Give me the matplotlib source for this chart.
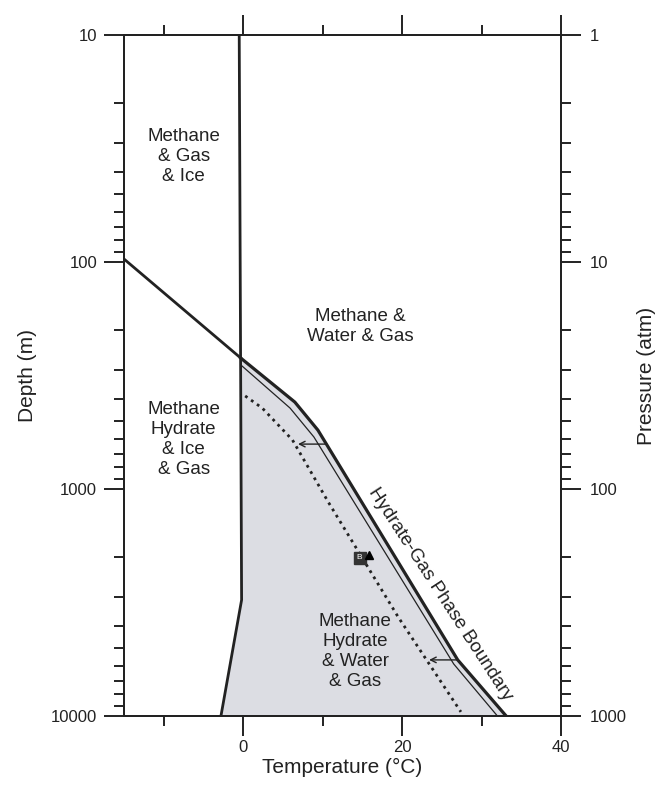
import numpy as np
import matplotlib.pyplot as plt
from matplotlib.ticker import FixedLocator, LogLocator, NullFormatter

plt.rcParams['font.family'] = ['Liberation Sans', 'DejaVu Sans']

# ice / water line
ice_T = [-0.5, -0.2, -2.8]
ice_D = [10, 3080, 10000]
# methane gas / hydrate line above 0 C
gas_T = [-15, -0.3]
gas_D = [97, 265]
# hydrate-gas phase boundary (thick)
bound_T = [-0.3, 6.5, 9.4, 27.0, 33.1]
bound_D = [265, 414, 550, 5660, 10000]
# inner thin boundary
thin_T = [-0.3, 5.9, 8.9, 26.5, 32.0]
thin_D = [284, 440, 590, 5900, 10000]
# dotted boundary
dot_T = [0.25, 2.4, 6.2, 10.7, 19.5, 27.4]
dot_D = [389, 440, 608, 1140, 3660, 9590]
# arrows (start T, end T, depth)
arrow_T0 = [10.5, 27.0]
arrow_T1 = [6.9, 23.4]
arrow_D = [634, 5660]
# sample markers
sq_T, sq_D = 14.65, 2005
tri_T, tri_D = 15.85, 1950

fig = plt.figure(figsize=(6.6, 7.89), dpi=100)
ax = fig.add_axes([0.1879, 0.0925, 0.85 - 0.1879, 0.9556 - 0.0925])

# shaded hydrate stability region
ice_top = np.interp(np.log10(bound_D[0]), np.log10(ice_D), ice_T)
poly_T = bound_T + [ice_T[-1], ice_T[1], ice_top]
poly_D = bound_D + [ice_D[-1], ice_D[1], bound_D[0]]
ax.fill(poly_T, poly_D, color='#dcdde3', lw=0, zorder=1)

ax.plot(ice_T, ice_D, color='#222222', lw=2, zorder=3)
ax.plot(gas_T, gas_D, color='#222222', lw=2, zorder=3)
ax.plot(bound_T, bound_D, color='#222222', lw=2.3, zorder=3)
ax.plot(thin_T, thin_D, color='#222222', lw=0.9, zorder=3)
ax.plot(dot_T, dot_D, color='#222222', lw=2, ls=(0, (1, 1.6)), zorder=3)

for t0, t1, d in zip(arrow_T0, arrow_T1, arrow_D):
    ax.annotate('', xy=(t1, d), xytext=(t0, d),
                arrowprops=dict(arrowstyle='->', color='#222222', lw=1,
                                shrinkA=0, shrinkB=0), zorder=4)

ax.plot(sq_T, sq_D, marker='s', ms=9, color='#333333', zorder=5)
ax.text(sq_T, sq_D, 'B', color='white', fontsize=6, ha='center', va='center', zorder=6)
ax.plot(tri_T, tri_D, marker='^', ms=6, color='black', zorder=5)

fs = 13.5
ls = 1.23
ax.text(-7.5, 34.4, 'Methane\n& Gas\n& Ice', ha='center', va='center', fontsize=fs, linespacing=ls, color='#222222')
ax.text(14.7, 193, 'Methane &\nWater & Gas', ha='center', va='center', fontsize=fs, linespacing=ls, color='#222222')
ax.text(-7.5, 608, 'Methane\nHydrate\n& Ice\n& Gas', ha='center', va='center', fontsize=fs, linespacing=ls, color='#222222')
ax.text(14.1, 5222, 'Methane\nHydrate\n& Water\n& Gas', ha='center', va='center', fontsize=fs, linespacing=ls, color='#222222')
ax.text(24.8, 2900, 'Hydrate-Gas Phase Boundary', ha='center', va='center', fontsize=fs,
        rotation=-57, rotation_mode='anchor', color='#222222')

ax.set_xlim(-15, 40)
ax.set_yscale('log')
ax.set_ylim(10000, 10)
ax.set_xticks([0, 20, 40])
ax.xaxis.set_minor_locator(FixedLocator([-10, 10, 30]))
ax.yaxis.set_major_locator(FixedLocator([10, 100, 1000, 10000]))
ax.set_yticklabels(['10', '100', '1000', '10000'])
ax.yaxis.set_minor_locator(LogLocator(base=10, subs=np.arange(2, 10)))
ax.yaxis.set_minor_formatter(NullFormatter())

ax.tick_params(which='both', direction='out', width=1.4, color='#222222', labelsize=12,
               top=True, right=False, labelcolor='#222222')
ax.tick_params(which='major', length=14.4, pad=5)
ax.tick_params(which='minor', length=7.2)
ax.tick_params(axis='x', which='major', pad=3)
ax.set_xlabel('Temperature (°C)', fontsize=15, color='#222222', labelpad=2)
ax.set_ylabel('Depth (m)', fontsize=15, color='#222222', labelpad=10)
for s in ax.spines.values():
    s.set_linewidth(1.4)
    s.set_color('#222222')

ax2 = ax.twinx()
ax2.set_yscale('log')
ax2.set_ylim(1000, 1)
ax2.yaxis.set_major_locator(FixedLocator([1, 10, 100, 1000]))
ax2.set_yticklabels(['1', '10', '100', '1000'])
ax2.yaxis.set_minor_locator(LogLocator(base=10, subs=np.arange(2, 10)))
ax2.yaxis.set_minor_formatter(NullFormatter())
ax2.tick_params(which='both', direction='out', width=1.4, color='#222222', labelsize=12,
                labelcolor='#222222')
ax2.tick_params(which='major', length=14.4, pad=6)
ax2.tick_params(which='minor', length=7.2)
ax2.set_ylabel('Pressure (atm)', fontsize=15, color='#222222', labelpad=8)
for s in ax2.spines.values():
    s.set_linewidth(1.4)
    s.set_color('#222222')

fig.savefig('out.png', dpi=100)
